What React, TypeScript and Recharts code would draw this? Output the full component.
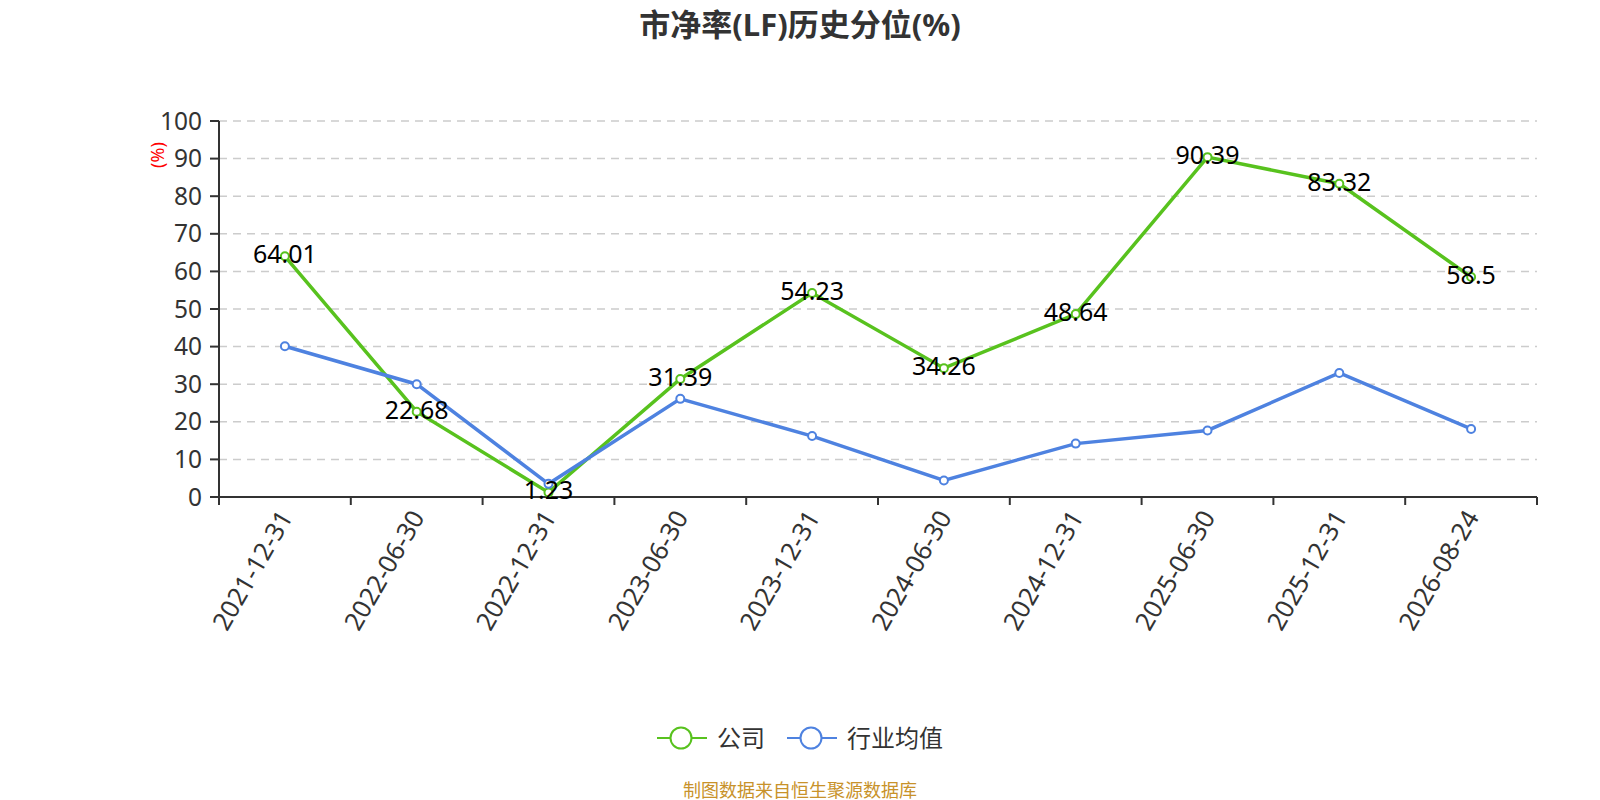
import React from 'react';
import { LineChart, Line, XAxis, YAxis, CartesianGrid, LabelList } from 'recharts';

const dates = ['2021-12-31', '2022-06-30', '2022-12-31', '2023-06-30', '2023-12-31', '2024-06-30', '2024-12-31', '2025-06-30', '2025-12-31', '2026-08-24'];
const companyValues = [64.01, 22.68, 1.23, 31.39, 54.23, 34.26, 48.64, 90.39, 83.32, 58.5];
const industryValues = [40.1, 30.0, 3.5, 26.1, 16.2, 4.4, 14.2, 17.7, 33.0, 18.1];
const yTicks = [0, 10, 20, 30, 40, 50, 60, 70, 80, 90, 100];

const seriesNames = ['公司', '行业均值'];
const GREEN = '#58c21e';
const BLUE = '#4e82e0';
const FONT = "'Noto Sans', 'Noto Sans CJK SC', sans-serif";

const data = dates.map((d, i) => ({ date: d, company: companyValues[i], industry: industryValues[i] }));

const W = 1600;
const H = 800;
const PLOT_LEFT = 219;
const PLOT_RIGHT = 1537;
const PLOT_TOP = 121;
const PLOT_BOTTOM = 497;
const X_AXIS_H = 120;
const BAND = (PLOT_RIGHT - PLOT_LEFT) / dates.length;

const XTick = (props: any) => {
  const { x, index } = props;
  const value = props.payload?.value;
  const ay = PLOT_BOTTOM + 15;
  return (
    <g>
      <line x1={x - BAND / 2} y1={PLOT_BOTTOM} x2={x - BAND / 2} y2={PLOT_BOTTOM + 8} stroke="#333" strokeWidth={2} />
      {index === dates.length - 1 && (
        <line x1={x + BAND / 2} y1={PLOT_BOTTOM} x2={x + BAND / 2} y2={PLOT_BOTTOM + 8} stroke="#333" strokeWidth={2} />
      )}
      <text
        x={x}
        y={ay}
        transform={`rotate(-60, ${x}, ${ay})`}
        textAnchor="end"
        dominantBaseline="central"
        fontSize={25.5}
        fontFamily={FONT}
        fill="#333"
      >
        {value}
      </text>
    </g>
  );
};

const PointLabel = (props: any) => {
  const { x, y, value } = props;
  return (
    <text x={x} y={y - 3} textAnchor="middle" dominantBaseline="central" fontSize={25} fontFamily={FONT} fill="#000">
      {value}
    </text>
  );
};

const YUnitLabel = (props: any) => {
  const vb = props.viewBox || {};
  const cx = (vb.x ?? 0) + (vb.width ?? PLOT_LEFT) - 62;
  const cy = (vb.y ?? PLOT_TOP) + 34;
  return (
    <text x={cx} y={cy} transform={`rotate(-90, ${cx}, ${cy})`} textAnchor="middle" dominantBaseline="central" fontSize={18} fontFamily={FONT} fill="#ff0000">
      (%)
    </text>
  );
};

const LegendItem = ({ color, label }: { color: string; label: string }) => (
  <div style={{ display: 'flex', alignItems: 'center', marginRight: 22 }}>
    <svg width={50} height={26} style={{ display: 'block' }}>
      <line x1={0} y1={13} x2={50} y2={13} stroke={color} strokeWidth={2} />
      <circle cx={24} cy={13} r={10.5} fill="#fff" stroke={color} strokeWidth={2} />
    </svg>
    <span style={{ marginLeft: 10, fontSize: 24, color: '#333', fontFamily: FONT, lineHeight: '26px' }}>{label}</span>
  </div>
);

export default function App() {
  return (
    <div style={{ position: 'absolute', left: 0, top: 0, width: W, height: H, background: '#fff', fontFamily: FONT }}>
      <div style={{ position: 'absolute', left: 0, top: 3, width: W, textAlign: 'center', fontSize: 31, fontWeight: 700, color: '#333', lineHeight: '42px' }}>
        市净率(LF)历史分位(%)
      </div>
      <LineChart
        width={W}
        height={H}
        data={data}
        margin={{ top: PLOT_TOP, right: W - PLOT_RIGHT, left: 0, bottom: H - PLOT_BOTTOM - X_AXIS_H }}
      >
        <CartesianGrid horizontal vertical={false} stroke="#cccccc" strokeDasharray="8 6" strokeWidth={1.5} />
        <XAxis
          dataKey="date"
          interval={0}
          height={X_AXIS_H}
          padding={{ left: BAND / 2, right: BAND / 2 }}
          tickLine={false}
          axisLine={{ stroke: '#333', strokeWidth: 2 }}
          tick={<XTick />}
        />
        <YAxis
          width={PLOT_LEFT}
          domain={[0, 100]}
          ticks={yTicks}
          interval={0}
          tickSize={9}
          tickMargin={8}
          axisLine={{ stroke: '#333', strokeWidth: 2 }}
          tickLine={{ stroke: '#333', strokeWidth: 2 }}
          tick={{ fontSize: 24.5, fill: '#333', fontFamily: FONT }}
          label={<YUnitLabel />}
        />
        <Line
          type="linear"
          dataKey="company"
          name={seriesNames[0]}
          stroke={GREEN}
          strokeWidth={3.5}
          dot={{ r: 4, fill: '#fff', stroke: GREEN, strokeWidth: 2 }}
          activeDot={false}
          isAnimationActive={false}
        />
        <Line
          type="linear"
          dataKey="industry"
          name={seriesNames[1]}
          stroke={BLUE}
          strokeWidth={3.5}
          dot={{ r: 4, fill: '#fff', stroke: BLUE, strokeWidth: 2 }}
          activeDot={false}
          isAnimationActive={false}
        />
        <Line
          type="linear"
          dataKey="company"
          stroke="none"
          dot={false}
          activeDot={false}
          legendType="none"
          isAnimationActive={false}
        >
          <LabelList dataKey="company" content={<PointLabel />} />
        </Line>
      </LineChart>
      <div style={{ position: 'absolute', left: 0, top: 725, width: W, display: 'flex', justifyContent: 'center', paddingLeft: 22, boxSizing: 'border-box' }}>
        <LegendItem color={GREEN} label={seriesNames[0]} />
        <LegendItem color={BLUE} label={seriesNames[1]} />
      </div>
      <div style={{ position: 'absolute', left: 0, top: 778, width: W, textAlign: 'center', fontSize: 18, color: '#c8922a', lineHeight: '24px' }}>
        制图数据来自恒生聚源数据库
      </div>
    </div>
  );
}
